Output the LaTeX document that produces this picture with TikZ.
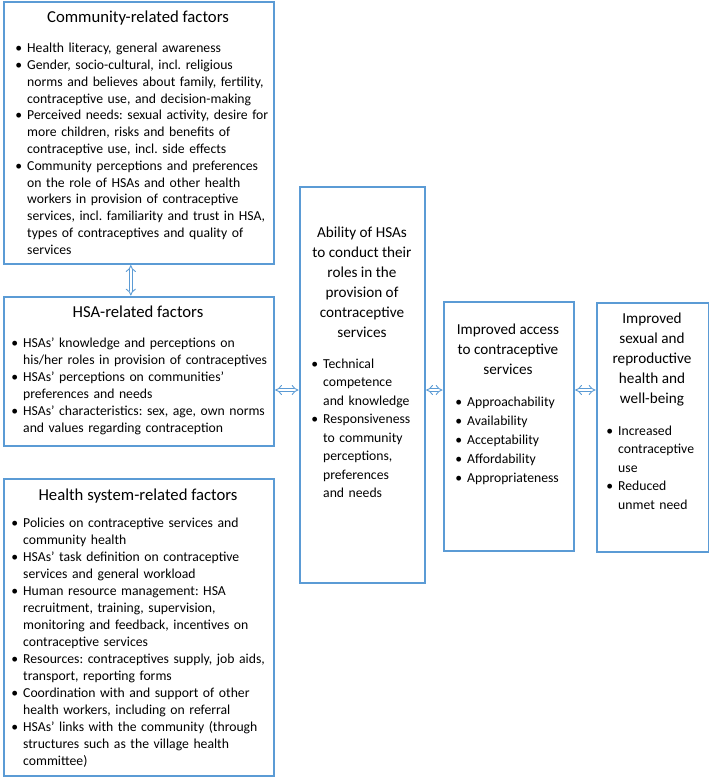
\documentclass[tikz,border=0pt]{standalone}
\usepackage{fontspec}
\setmainfont{Carlito}
\usepackage{enumitem}
\usetikzlibrary{arrows.meta}
\definecolor{boxblue}{RGB}{91,155,213}
\newcommand{\headsize}{\fontsize{16.7}{20}\selectfont}
\newcommand{\subheadsize}{\fontsize{15.2}{20}\selectfont}
\newcommand{\bodysize}{\fontsize{13.7}{16.95}\selectfont}
\newcommand{\outcomesize}{\fontsize{13.7}{18.5}\selectfont}
\newenvironment{factorlist}{\begin{itemize}[label=\textbullet, leftmargin=10pt, labelsep=5pt, itemsep=0pt, topsep=0pt, parsep=0pt, partopsep=0pt]}{\end{itemize}}
\frenchspacing

\begin{document}
\begin{tikzpicture}[x=1pt,y=-1pt,
  panel/.style={draw=boxblue, line width=1.6pt, anchor=north west, inner sep=0pt},
  heading/.style={anchor=north, inner sep=0pt, align=center},
  points/.style={anchor=north west, inner sep=0pt, text width=#1, align=left},
  dblarrow/.style={draw=boxblue, line width=0.9pt, double=white, double distance=2.6pt,
    {Implies[length=3.5pt,width=10pt]}-{Implies[length=3.5pt,width=10pt]}, shorten <=0.5pt, shorten >=0.5pt}]
  \useasboundingbox (0,0) rectangle (709,777);

  %boxes
  \node[panel, minimum width=270pt, minimum height=262pt] (comm) at (3,1) {};
  \node[panel, minimum width=270pt, minimum height=149pt] (hsa) at (3,296) {};
  \node[panel, minimum width=270pt, minimum height=297pt] (hsys) at (3,478) {};
  \node[panel, minimum width=125pt, minimum height=396pt] (ability) at (299,186) {};
  \node[panel, minimum width=130pt, minimum height=249pt] (access) at (443,301) {};
  \node[panel, minimum width=112pt, minimum height=249pt] (srh) at (596,302) {};

  %community-related factors
  \node[heading, font=\headsize] (commhead) at (138,10.5) {Community-related factors};
  \node[points=255pt, font=\fontsize{13.7}{16.8}\selectfont] (commlist) at (17,35.6) {\begin{factorlist}
    \item Health literacy, general awareness
    \item Gender, socio-cultural, incl. religious\\ norms and believes about family, fertility,\\ contraceptive use, and decision-making
    \item Perceived needs: sexual activity, desire for\\ more children, risks and benefits of\\ contraceptive use, incl. side effects
    \item Community perceptions and preferences\\ on the role of HSAs and other health\\ workers in provision of contraceptive\\ services, incl. familiarity and trust in HSA,\\ types of contraceptives and quality of\\ services
  \end{factorlist}};

  %HSA-related factors
  \node[heading, font=\headsize] (hsahead) at (138,305.5) {HSA-related factors};
  \node[points=258pt, font=\bodysize] (hsalist) at (13,330.6) {\begin{factorlist}
    \item HSAs’ knowledge and perceptions on\\ his/her roles in provision of contraceptives
    \item HSAs’ perceptions on communities’\\ preferences and needs
    \item HSAs’ characteristics: sex, age, own norms\\ and values regarding contraception
  \end{factorlist}};

  %health system-related factors
  \node[heading, font=\headsize] (hsyshead) at (138,488.5) {Health system-related factors};
  \node[points=258pt, font=\bodysize] (hsyslist) at (13,510.6) {\begin{factorlist}
    \item Policies on contraceptive services and\\ community health
    \item HSAs’ task definition on contraceptive\\ services and general workload
    \item Human resource management: HSA\\ recruitment, training, supervision,\\ monitoring and feedback, incentives on\\ contraceptive services
    \item Resources: contraceptives supply, job aids,\\ transport, reporting forms
    \item Coordination with and support of other\\ health workers, including on referral
    \item HSAs’ links with the community (through\\ structures such as the village health\\ committee)
  \end{factorlist}};

  %ability of HSAs
  \node[heading, font=\subheadsize] (abilityhead) at (362,226.5) {Ability of HSAs\\ to conduct their\\ roles in the\\ provision of\\ contraceptive\\ services};
  \node[points=110pt, font=\outcomesize] (abilitylist) at (313,349.6) {\begin{factorlist}
    \item Technical\\ competence\\ and knowledge
    \item Responsiveness\\ to community\\ perceptions,\\ preferences\\ and needs
  \end{factorlist}};

  %improved access
  \node[heading, font=\subheadsize] (accesshead) at (508,323.5) {Improved access\\ to contraceptive\\ services};
  \node[points=115pt, font=\fontsize{13.7}{19}\selectfont] (accesslist) at (457,387.6) {\begin{factorlist}
    \item Approachability
    \item Availability
    \item Acceptability
    \item Affordability
    \item Appropriateness
  \end{factorlist}};

  %improved health
  \node[heading, font=\subheadsize] (srhhead) at (652,312.5) {Improved\\ sexual and\\ reproductive\\ health and\\ well-being};
  \node[points=100pt, font=\outcomesize] (srhlist) at (608,416.6) {\begin{factorlist}
    \item Increased\\ contraceptive\\ use
    \item Reduced\\ unmet need
  \end{factorlist}};

  %two-way arrows
  \coordinate (arrowrow) at (0,390);
  \draw[dblarrow] ([xshift=-8pt]comm.south) -- ([xshift=-8pt]hsa.north);
  \draw[dblarrow] (hsa.east |- arrowrow) -- (ability.west |- arrowrow);
  \draw[dblarrow] (ability.east |- arrowrow) -- (access.west |- arrowrow);
  \draw[dblarrow] (access.east |- arrowrow) -- (srh.west |- arrowrow);
\end{tikzpicture}
\end{document}
